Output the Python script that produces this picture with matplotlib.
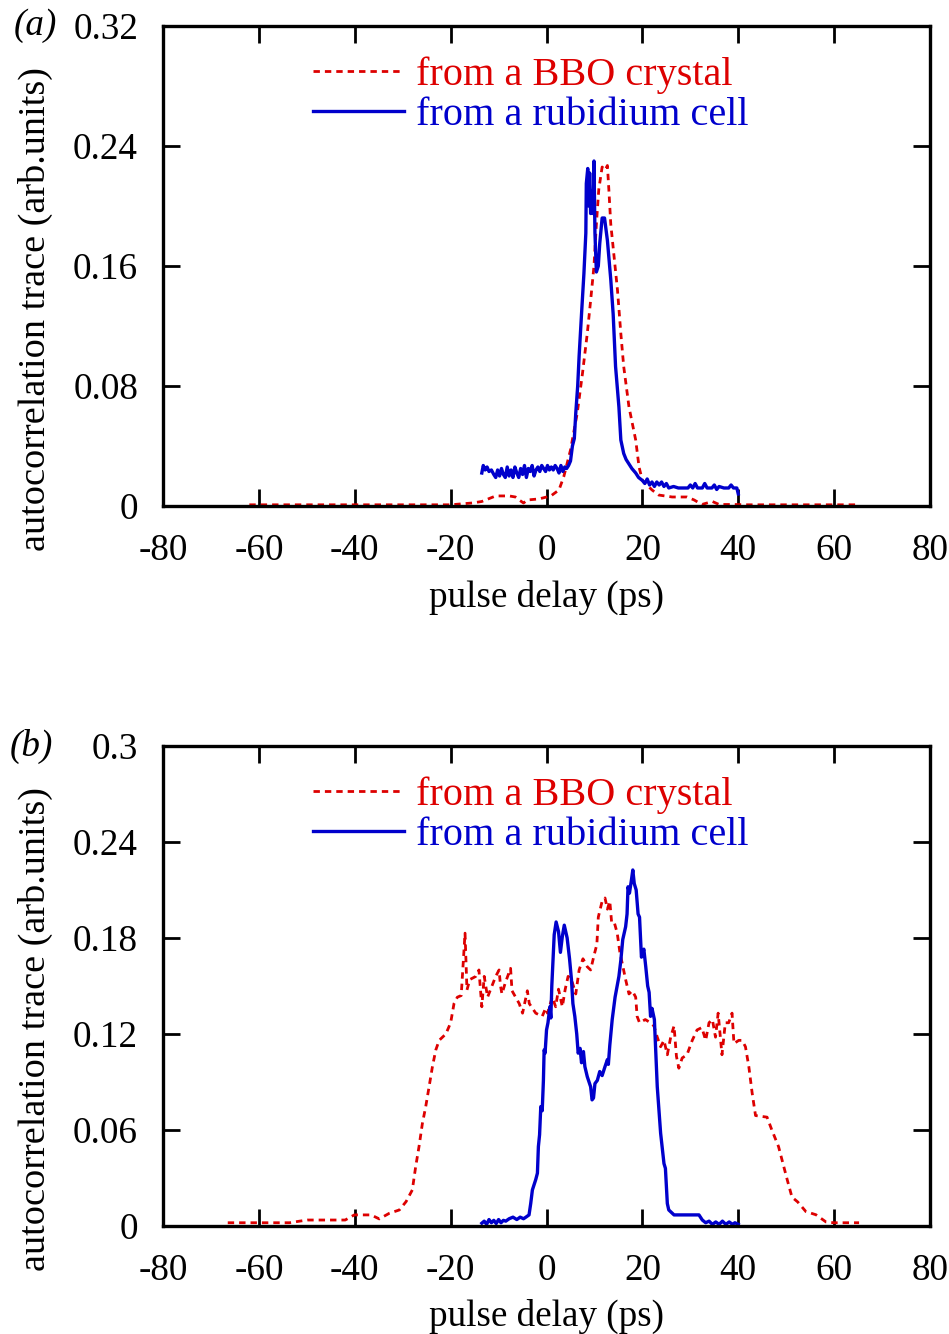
import matplotlib
matplotlib.use("Agg")
from matplotlib import pyplot as plt
from matplotlib import rcParams

rcParams["font.family"] = "Liberation Serif"
rcParams["mathtext.fontset"] = "stix"

red = '#dd0000'
blue = '#0000cc'

# ---- panel (a) ----
a_bbo_x = [-62, -55, -50, -45, -38, -30, -26, -20, -15.5, -13.5, -10.6, -7.8, -6.5, -5.7, -4.8, -4.0,
           -1.6, 0.9, 2.6, 3.6, 5.0, 6.4, 7.5, 8.5, 9.2, 9.9, 10.4, 10.9, 11.6, 12.2, 12.7, 13.0,
           13.4, 14.1, 14.8, 15.5, 16.1, 17.2, 18.6, 19.3, 20.0, 22.0, 23.4, 26.2, 29.3, 30.8,
           32.4, 34.6, 36.0, 39.0, 42.0, 48.0, 55.0, 64.5]
a_bbo_y = [0.0008, 0.0008, 0.0008, 0.0008, 0.0008, 0.0008, 0.0008, 0.0008, 0.002, 0.003, 0.0067, 0.0067,
           0.006, 0.004, 0.002, 0.004, 0.0047, 0.0067, 0.0107, 0.0196, 0.0373, 0.0618, 0.0884, 0.115,
           0.137, 0.160, 0.188, 0.211, 0.226, 0.224, 0.227, 0.211, 0.188, 0.166, 0.144, 0.115, 0.093,
           0.066, 0.044, 0.026, 0.017, 0.0107, 0.0073, 0.006, 0.006, 0.004, 0.001, 0.003, 0.001,
           0.001, 0.0008, 0.0008, 0.0008, 0.0008]

a_rb_x = [-13.5, -13.2, -12.8, -12.4, -12.0, -11.5, -11.0, -10.6, -10.2, -9.8, -9.4, -9.0, -8.6, -8.2,
          -7.8, -7.4, -7.0, -6.6, -6.2, -5.8, -5.4, -5.0, -4.6, -4.2, -3.8, -3.4, -3.0, -2.6, -2.2,
          -1.8, -1.4, -1.0, -0.6, -0.2, 0.2, 0.6, 1.0, 1.4, 1.8, 2.2, 2.6, 3.0, 3.4, 3.8, 4.2, 4.6,
          5.0, 5.4, 5.8, 6.1, 6.5, 6.8, 7.3, 7.8, 8.2, 8.3, 8.6, 8.8, 9.0, 9.2, 9.5, 9.7, 9.9, 10.1,
          10.4, 10.8, 11.1, 11.6, 12.1, 12.7, 13.4, 13.9, 14.4, 15.1, 15.5, 16.1, 16.6, 17.2, 17.8,
          18.6, 19.2, 20.0, 20.5, 21.0, 21.5, 22.0, 22.5, 23.0, 23.5, 24.0, 24.5, 25.0, 25.5, 26.5,
          27.5, 28.5, 29.5, 30.0, 30.5, 31.0, 31.5, 32.5, 33.0, 33.5, 34.5, 35.0, 35.5, 36.0, 37.0,
          38.0, 38.5, 39.0, 39.7, 40.0]
a_rb_y = [0.022, 0.027, 0.024, 0.026, 0.023, 0.024, 0.021, 0.019, 0.024, 0.020, 0.025, 0.021, 0.019,
          0.026, 0.020, 0.024, 0.019, 0.026, 0.022, 0.019, 0.025, 0.021, 0.027, 0.019, 0.025, 0.023,
          0.027, 0.020, 0.024, 0.026, 0.023, 0.027, 0.025, 0.023, 0.027, 0.024, 0.026, 0.024, 0.027,
          0.025, 0.022, 0.027, 0.023, 0.026, 0.025, 0.027,
          0.030, 0.040, 0.045, 0.062, 0.080, 0.100, 0.128, 0.155, 0.182, 0.215, 0.225, 0.200, 0.222,
          0.195, 0.210, 0.195, 0.230, 0.182, 0.156, 0.160, 0.175, 0.192, 0.192, 0.177, 0.151, 0.128,
          0.093, 0.066, 0.044, 0.035, 0.031, 0.028, 0.025, 0.022, 0.019, 0.017, 0.015, 0.018, 0.014,
          0.016, 0.013, 0.016, 0.014, 0.016, 0.013, 0.015, 0.012, 0.013, 0.012, 0.012, 0.012, 0.014,
          0.012, 0.015, 0.012, 0.012, 0.015, 0.012, 0.012, 0.014, 0.011, 0.013, 0.012, 0.012, 0.014,
          0.012, 0.012, 0.008]

# ---- panel (b) ----
b_bbo_x = [-66.5, -60, -53.6, -51.5, -49.9, -46, -42, -40.1, -36.6, -34.9,
           -32.8, -30.7, -29.3, -28.0, -27.3, -26.6, -25.9, -25.2, -24.5, -23.8,
           -23.1, -22.4, -21.0, -20.0, -19.3, -18.6, -17.8, -17.0, -16.6, -16.0,
           -14.75, -14.1, -13.5, -13.0, -12.3, -10.6, -9.9, -9.6, -9.3, -8.6,
           -7.5, -7.2, -5.7, -5.0, -4.0, -3.6, -2.25, -0.9, -0.2, 0.2,
           1.2, 1.9, 2.5, 3.3, 3.9, 4.5, 5.3, 6.1, 6.8, 7.6,
           8.5, 9.2, 9.9, 10.5, 10.8, 11.6, 12.2, 12.7, 13.2, 13.6,
           14.2, 14.75, 15.3, 15.8, 16.5, 17.2, 17.9, 18.6, 18.9, 19.4,
           20.6, 21.7, 22.4, 23.1, 23.8, 24.5, 25.2, 25.9, 26.6, 27.1,
           27.6, 28.3, 29.3, 30.4, 31.4, 32.4, 33.2, 33.9, 34.6, 35.25,
           35.8, 36.6, 37.3, 38.0, 38.7, 39.1, 40.1, 40.8, 41.5, 42.2,
           42.9, 43.6, 46.0, 47.0, 48.4, 49.5, 50.2, 51.2, 52.4, 54.1,
           56.2, 58.3, 59.9, 65.2]
b_bbo_y = [0.002, 0.002, 0.002, 0.003, 0.0037, 0.0037, 0.0037, 0.0069, 0.0069, 0.0044,
           0.0079, 0.010, 0.0152, 0.0225, 0.037, 0.0496, 0.064, 0.0746, 0.087, 0.0996,
           0.110, 0.116, 0.120, 0.127, 0.139, 0.143, 0.144, 0.183, 0.1475, 0.154,
           0.156, 0.160, 0.137, 0.156, 0.143, 0.156, 0.160, 0.150, 0.145, 0.152,
           0.161, 0.147, 0.139, 0.133, 0.147, 0.139, 0.133, 0.131, 0.136, 0.133,
           0.143, 0.137, 0.148, 0.137, 0.148, 0.156, 0.153, 0.145, 0.160, 0.167,
           0.162, 0.160, 0.169, 0.176, 0.193, 0.203, 0.205, 0.198, 0.203, 0.189,
           0.189, 0.183, 0.171, 0.164, 0.154, 0.145, 0.147, 0.143, 0.131, 0.127,
           0.129, 0.127, 0.125, 0.118, 0.112, 0.116, 0.107, 0.118, 0.125, 0.106,
           0.0986, 0.105, 0.107, 0.116, 0.1225, 0.124, 0.116, 0.127, 0.129, 0.118,
           0.133, 0.107, 0.127, 0.127, 0.133, 0.114, 0.116, 0.116, 0.112, 0.0996,
           0.083, 0.069, 0.068, 0.060, 0.0496, 0.037, 0.029, 0.018, 0.015, 0.009,
           0.007, 0.0025, 0.002, 0.002]

b_rb_x = [-13.5, -13.0, -12.5, -12.0, -11.5, -11.0, -10.5, -10.0, -9.5, -9.0,
          -8.5, -7.8, -7.0, -6.2, -5.5, -4.8, -4.3, -3.65, -3.3, -2.95,
          -2.25, -1.9, -1.7, -1.45, -1.2, -0.9, -0.65, -0.5, -0.3, 0.0,
          0.3, 0.7, 0.9, 1.1, 1.35, 1.6, 2.0, 2.5, 2.9, 3.3,
          3.7, 4.3, 4.8, 5.2, 5.5, 5.9, 6.3, 6.6, 7.0, 7.3,
          7.7, 8.0, 8.5, 9.2, 9.5, 9.8, 10.1, 10.6, 11.1, 11.6,
          12.2, 12.7, 12.9, 13.2, 13.7, 14.3, 15.1, 15.5, 15.9, 16.5,
          16.8, 17.0, 17.3, 17.7, 18.0, 18.3, 18.7, 19.1, 19.4, 19.8,
          20.3, 20.7, 21.1, 21.4, 21.7, 22.0, 22.5, 23.1, 23.8, 24.5,
          24.8, 25.2, 25.5, 26.6, 27.6, 29.0, 30.5, 31.8, 32.5, 33.2,
          33.9, 34.6, 35.3, 36.0, 36.7, 37.4, 38.1, 38.8, 39.3, 40.0]
b_rb_y = [0.0017, 0.003, 0.001, 0.004, 0.002, 0.0035, 0.0015, 0.004, 0.002, 0.0035,
          0.003, 0.0045, 0.0055, 0.004, 0.0055, 0.0045, 0.0055, 0.0069, 0.014, 0.0225,
          0.029, 0.033, 0.0496, 0.057, 0.0746, 0.072, 0.091, 0.110, 0.108, 0.1225,
          0.127, 0.137, 0.130, 0.150, 0.166, 0.182, 0.190, 0.184, 0.171, 0.181,
          0.188, 0.180, 0.167, 0.154, 0.139, 0.131, 0.120, 0.108, 0.111, 0.102,
          0.109, 0.0996, 0.0933, 0.087, 0.0788, 0.080, 0.089, 0.091, 0.0965, 0.094,
          0.0996, 0.104, 0.101, 0.113, 0.129, 0.143, 0.156, 0.166, 0.179, 0.187,
          0.195, 0.212, 0.208, 0.216, 0.2225, 0.214, 0.210, 0.195, 0.193, 0.168,
          0.173, 0.162, 0.150, 0.146, 0.131, 0.136, 0.129, 0.087, 0.058, 0.039,
          0.036, 0.014, 0.010, 0.0069, 0.0069, 0.0069, 0.0069, 0.0069, 0.0037, 0.002,
          0.003, 0.001, 0.0025, 0.001, 0.003, 0.001, 0.0025, 0.001, 0.002, 0.001]

labels = ['from a BBO crystal', 'from a rubidium cell']
xticks = [-80, -60, -40, -20, 0, 20, 40, 60, 80]

fig = plt.figure(figsize=(9.49, 13.34), dpi=100)
ax_a = fig.add_axes([0.1718, 0.6207, 0.8082, 0.3598])
ax_b = fig.add_axes([0.1718, 0.0810, 0.8082, 0.3598])

panels = [
    (ax_a, a_bbo_x, a_bbo_y, a_rb_x, a_rb_y, 0.32, 0.08, ['0', '0.08', '0.16', '0.24', '0.32'], '(a)', -0.167),
    (ax_b, b_bbo_x, b_bbo_y, b_rb_x, b_rb_y, 0.30, 0.06, ['0', '0.06', '0.12', '0.18', '0.24', '0.3'], '(b)', -0.172),
]

for ax, bx, by, rx, ry, ymax, ystep, ylabels, tag, tag_x in panels:
    ax.plot(bx, by, color=red, lw=2.0, linestyle=(0, (2.3, 1.8)), label=labels[0])
    ax.plot(rx, ry, color=blue, lw=2.4, label=labels[1])
    ax.set_xlim(-80, 80)
    ax.set_ylim(0, ymax)
    ax.set_xticks(xticks)
    ax.set_xticklabels([str(t) for t in xticks])
    yt = [round(i * ystep, 2) for i in range(len(ylabels))]
    ax.set_yticks(yt)
    ax.set_yticklabels(ylabels)
    for s in ax.spines.values():
        s.set_linewidth(2.4)
    ax.tick_params(axis='both', which='major', direction='in', length=12.5, width=2.0,
                   top=True, right=True, labelsize=26.7)
    ax.tick_params(axis='x', pad=20)
    ax.tick_params(axis='y', pad=18)
    ax.set_xlabel('pulse delay (ps)', fontsize=26.7, labelpad=8)
    ax.set_ylabel('autocorrelation trace (arb.units)', fontsize=27.5)
    ax.yaxis.set_label_coords(-0.144, 0.41)
    ax.text(tag_x, 1.0, tag, transform=ax.transAxes, fontsize=26.7, style='italic',
            ha='center', va='center')
    ax.legend(loc='upper left', bbox_to_anchor=(0.1956, 0.937), borderaxespad=0, borderpad=0,
              handlelength=2.25, handletextpad=0.3, labelspacing=0.07, fontsize=29,
              labelcolor='linecolor', frameon=False)

plt.savefig('out.png', dpi=100)
